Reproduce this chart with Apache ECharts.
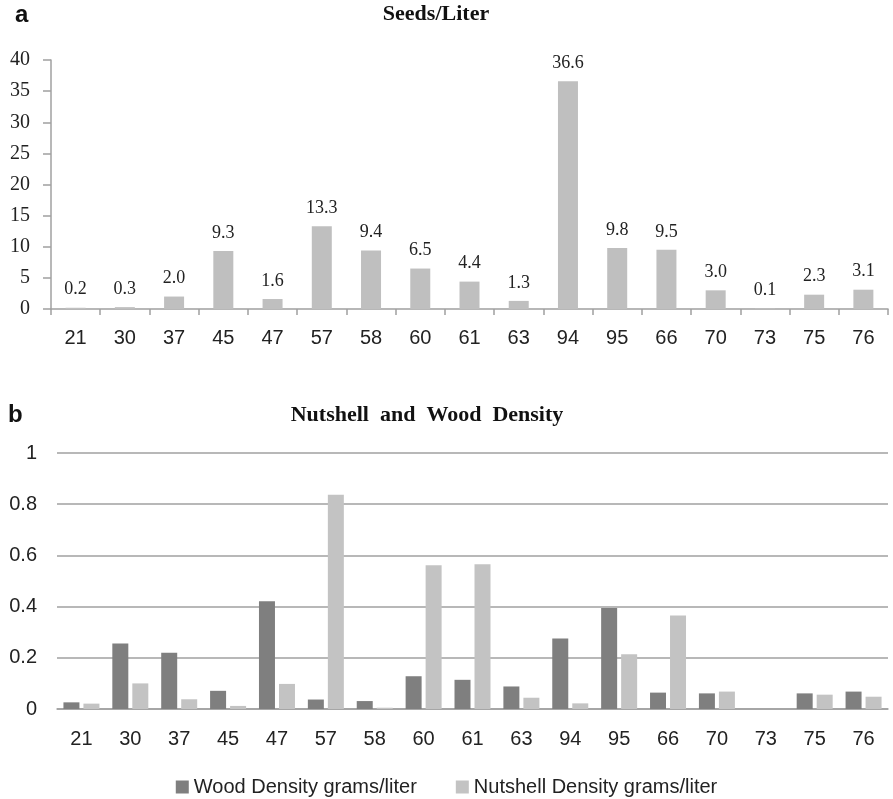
<!DOCTYPE html>
<html>
<head>
<meta charset="utf-8">
<script src="https://cdn.jsdelivr.net/npm/echarts@6/dist/echarts.min.js"></script>
<style>html,body{margin:0;padding:0;background:#fff}#chart{width:893px;height:799px}</style>
</head>
<body>
<div id="chart"></div>
<script>
const categories = ['21','30','37','45','47','57','58','60','61','63','94','95','66','70','73','75','76'];
const seedsPerLiter = [0.2,0.3,2.0,9.3,1.6,13.3,9.4,6.5,4.4,1.3,36.6,9.8,9.5,3.0,0.1,2.3,3.1];
const woodDensity = [0.026,0.256,0.220,0.071,0.421,0.037,0.031,0.128,0.114,0.088,0.275,0.395,0.064,0.061,0,0.061,0.068];
const nutshellDensity = [0.021,0.100,0.038,0.012,0.098,0.837,0.005,0.562,0.565,0.044,0.022,0.214,0.365,0.068,0,0.056,0.048];
const seedTicks = [0,40,5];
const densityTicks = [0,1,0.2];

const serif = '"Liberation Serif", "Times New Roman", serif';
const sans = '"Liberation Sans", Arial, sans-serif';
const axisGray = '#a0a0a0';

const chart = echarts.init(document.getElementById('chart'), null, {renderer:'canvas'});
chart.setOption({
  backgroundColor:'#fff',
  animation:false,
  graphic:[
    {type:'text', left:15, top:3, style:{text:'a', font:'bold 24px '+sans, fill:'#111'}},
    {type:'text', x:436, y:3, style:{text:'Seeds/Liter', font:'bold 22px '+serif, fill:'#111', align:'center'}},
    {type:'text', left:8, top:403, style:{text:'b', font:'bold 24px '+sans, fill:'#111'}},
    {type:'text', x:427, y:404, style:{text:'Nutshell  and  Wood  Density', font:'bold 22px '+serif, fill:'#111', align:'center'}}
  ],
  legend:{
    data:['Wood Density grams/liter','Nutshell Density grams/liter'],
    top:772, left:'center', icon:'rect', itemWidth:13, itemHeight:13, itemGap:39,
    textStyle:{fontFamily:sans, fontSize:20, color:'#222'}
  },
  grid:[
    {left:51, right:5, top:60, height:249},
    {left:57, right:5, top:453, height:256}
  ],
  xAxis:[
    {type:'category', gridIndex:0, data:categories, boundaryGap:true,
     axisLine:{lineStyle:{color:axisGray, width:1.5}},
     axisTick:{show:true, length:6, lineStyle:{color:axisGray, width:1.5}},
     axisLabel:{fontFamily:sans, fontSize:20, color:'#222', margin:19, interval:0}},
    {type:'category', gridIndex:1, data:categories, boundaryGap:true,
     axisLine:{lineStyle:{color:axisGray, width:1.5}},
     axisTick:{show:false},
     axisLabel:{fontFamily:sans, fontSize:20, color:'#222', margin:20, interval:0}}
  ],
  yAxis:[
    {type:'value', gridIndex:0, min:seedTicks[0], max:seedTicks[1], interval:seedTicks[2],
     axisLine:{show:true, lineStyle:{color:axisGray, width:1.5}},
     axisTick:{show:true, length:8, lineStyle:{color:axisGray, width:1.5}},
     splitLine:{show:false},
     axisLabel:{fontFamily:serif, fontSize:20, color:'#222', margin:21}},
    {type:'value', gridIndex:1, min:densityTicks[0], max:densityTicks[1], interval:densityTicks[2],
     axisLine:{show:false}, axisTick:{show:false},
     splitLine:{show:true, lineStyle:{color:axisGray, width:1.5}},
     axisLabel:{fontFamily:sans, fontSize:20, color:'#222', margin:20}}
  ],
  series:[
    {name:'Seeds/Liter', type:'bar', xAxisIndex:0, yAxisIndex:0, data:seedsPerLiter, barWidth:20,
     itemStyle:{color:'#bfbfbf'},
     label:{show:true, position:'top', distance:9, fontFamily:serif, fontSize:18, color:'#222',
            formatter:p=>p.value.toFixed(1)}},
    {name:'Wood Density grams/liter', type:'bar', xAxisIndex:1, yAxisIndex:1, data:woodDensity,
     barWidth:16, barGap:'25%', itemStyle:{color:'#7f7f7f'}},
    {name:'Nutshell Density grams/liter', type:'bar', xAxisIndex:1, yAxisIndex:1, data:nutshellDensity,
     barWidth:16, barGap:'25%', itemStyle:{color:'#c3c3c3'}}
  ]
});
</script>
</body>
</html>
